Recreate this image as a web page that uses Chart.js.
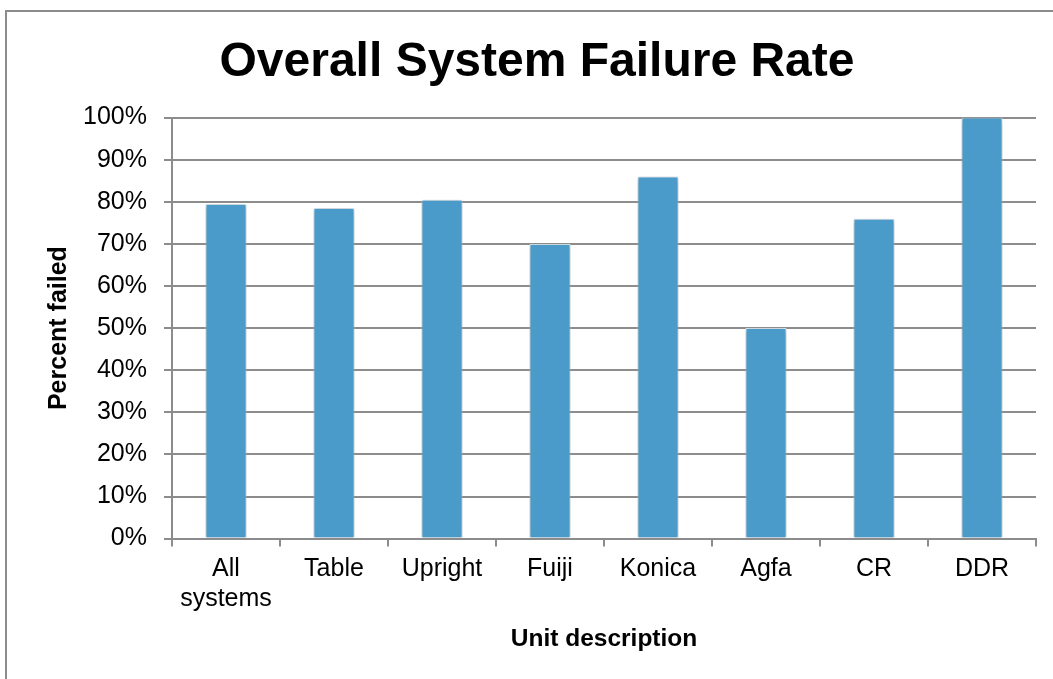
<!DOCTYPE html>
<html>
<head>
<meta charset="utf-8">
<script src="https://cdn.jsdelivr.net/npm/chart.js@4/dist/chart.umd.min.js"></script>
<style>
  html, body { margin: 0; padding: 0; background: #fff; }
  #wrap { position: relative; width: 1053px; height: 679px; }
  #frame { position: absolute; left: 5px; top: 10px; width: 1060px; height: 700px; border: 2px solid #8c8c8c; box-sizing: border-box; }
  #myChart { position: absolute; left: 0; top: 0; }
</style>
</head>
<body>
<div id="wrap">
  <div id="frame"></div>
  <canvas id="myChart" width="1053" height="679"></canvas>
</div>
<script>
var categories = [['All', 'systems'], 'Table', 'Upright', 'Fuiji', 'Konica', 'Agfa', 'CR', 'DDR'];
var percentFailed = [79.5, 78.5, 80.5, 70, 86, 50, 76, 100];
var yTicks = [0, 10, 20, 30, 40, 50, 60, 70, 80, 90, 100];

var fontFamily = '"Liberation Sans", Arial, sans-serif';

// soft drop shadow under the bars
var barShadow = {
    id: 'barShadow',
    beforeDatasetsDraw: function (chart) {
        var c = chart.ctx;
        c.save();
        c.shadowColor = 'rgba(0,0,0,0.35)';
        c.shadowBlur = 6;
        c.shadowOffsetX = 0;
        c.shadowOffsetY = 1;
    },
    afterDatasetsDraw: function (chart) {
        chart.ctx.restore();
    }
};

var ctx = document.getElementById('myChart');
new Chart(ctx, {
    type: 'bar',
    data: {
        labels: categories,
        datasets: [{
            label: 'Percent failed',
            data: percentFailed,
            backgroundColor: '#4a9bca',
            borderColor: '#e4f0f8',
            borderWidth: 1,
            barPercentage: 0.38,
            categoryPercentage: 1
        }]
    },
    options: {
        responsive: false,
        animation: false,
        layout: { padding: { left: 38, right: 17, top: 14, bottom: 21 } },
        plugins: {
            legend: { display: false },
            tooltip: { enabled: false },
            title: {
                display: true,
                text: 'Overall System Failure Rate',
                color: '#000',
                font: { family: fontFamily, size: 48, weight: 'bold' },
                padding: { top: 20, bottom: 26 }
            }
        },
        scales: {
            x: {
                grid: {
                    offset: true,
                    drawOnChartArea: false,
                    drawTicks: true,
                    tickLength: 8,
                    color: '#8c8c8c',
                    lineWidth: 2
                },
                border: { color: '#8c8c8c', width: 2 },
                ticks: {
                    color: '#000',
                    font: { family: fontFamily, size: 25, lineHeight: 1.2 },
                    padding: 8,
                    maxRotation: 0
                },
                title: {
                    display: true,
                    text: 'Unit description',
                    color: '#000',
                    font: { family: fontFamily, size: 24.5, weight: 'bold' },
                    padding: { top: 2, bottom: 4 }
                }
            },
            y: {
                min: 0,
                max: 100,
                afterBuildTicks: function (axis) {
                    axis.ticks = yTicks.map(function (v) { return { value: v }; });
                },
                afterFit: function (axis) {
                    axis.width = 134;
                },
                grid: {
                    color: '#8c8c8c',
                    lineWidth: 2,
                    tickLength: 8
                },
                border: { color: '#8c8c8c', width: 2 },
                ticks: {
                    color: '#000',
                    font: { family: fontFamily, size: 25 },
                    padding: 17,
                    callback: function (v) { return v + '%'; }
                },
                title: {
                    display: true,
                    text: 'Percent failed',
                    color: '#000',
                    font: { family: fontFamily, size: 25, weight: 'bold' },
                    padding: { top: 6, bottom: 0 }
                }
            }
        }
    },
    plugins: [barShadow]
});
</script>
</body>
</html>
